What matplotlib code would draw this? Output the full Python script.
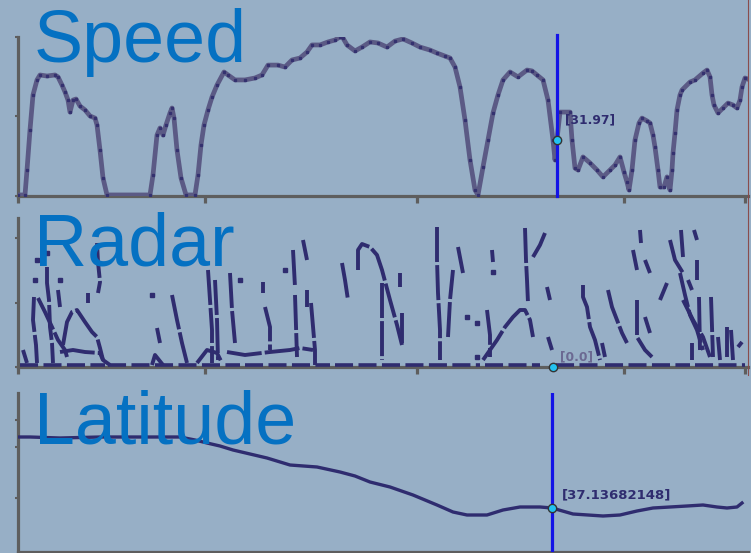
import matplotlib
matplotlib.use("Agg")
import matplotlib.pyplot as plt
from matplotlib.lines import Line2D

# time axis (s) shared by the three panels
time_ticks = [0, 187, 399, 606, 727]

# Speed trace
speed_t = [0, 7, 9, 12, 15, 19, 22, 29, 37, 40, 44, 47, 50, 52, 55, 58, 62, 67, 72, 77,
           79, 82, 85, 89, 132, 135, 139, 142, 145, 148, 152, 154, 156, 159, 163, 168, 177, 180,
           183, 186, 190, 194, 199, 206, 210, 217, 227, 237, 244, 250, 260, 267, 274, 282, 289,
           294, 302, 310, 317, 322, 325, 329, 337, 344, 352, 360, 369, 377, 385, 394, 402, 412,
           419, 427, 432, 437, 442, 447, 452, 457, 460, 465, 470, 475, 480, 485, 492, 500, 509,
           514, 519, 525, 530, 535, 537, 539, 542, 552, 554, 557, 560, 565, 572, 579, 585, 592,
           597, 602, 606, 609, 611, 614, 617, 621, 624, 629, 632, 635, 637, 640, 642, 646, 649,
           652, 654, 655, 657, 659, 662, 664, 672, 677, 685, 689, 692, 694, 696, 700, 705, 710,
           715, 719, 722, 724, 727, 732]
speed_v = [0.6, 0.6, 14.7, 37.4, 57.2, 65.7, 68.5, 67.9, 68.5, 67.4, 62.8, 58.9, 54.3, 47.5,
           54.3, 54.9, 50.9, 48.7, 45.3, 44.1, 40.2, 26.0, 10.2, 0.6, 0.6, 11.9, 34.5, 38.5, 34.5,
           40.2, 47.0, 49.8, 44.1, 26.0, 10.2, 0.6, 0.6, 11.9, 28.9, 40.2, 48.7, 56.0, 62.8, 70.2,
           68.5, 65.7, 65.7, 66.8, 68.5, 74.1, 74.1, 73.0, 77.0, 78.1, 81.5, 85.5, 85.5, 87.2,
           88.3, 90.0, 89.4, 85.5, 82.1, 84.3, 87.2, 86.6, 84.3, 87.7, 88.9, 86.6, 84.3, 82.6,
           80.9, 79.2, 78.1, 73.0, 61.7, 43.0, 20.4, 3.4, 0.6, 16.4, 31.7, 47.0, 57.2, 65.7, 70.2,
           67.4, 71.3, 70.8, 68.5, 65.7, 54.3, 31.7, 20.4, 31.97, 47.5, 47.5, 31.7, 15.8, 14.7,
           22.1, 18.7, 14.7, 10.8, 14.7, 17.5, 22.1, 13.6, 7.9, 3.4, 14.7, 31.7, 41.3, 44.1, 42.5,
           41.3, 34.5, 27.7, 14.7, 5.1, 5.1, 10.8, 3.4, 14.7, 24.3, 35.7, 48.7, 57.2, 60.0, 64.5,
           65.7, 69.6, 71.3, 67.4, 57.2, 51.5, 47.0, 49.8, 52.6, 51.5, 49.8, 54.3, 61.7, 66.8,
           65.7]

# Radar returns: one list of (t, range) points per track
radar_tracks = [
    [(16, 70), (15, 47), (18, 22), (19, 4)],
    [(20, 69), (27, 55), (34, 40), (40, 27), (47, 17), (49, 10)],
    [(42, 15), (55, 17), (67, 15), (82, 14), (85, 7), (92, 2)],
    [(29, 100), (29, 84), (31, 67), (32, 40), (34, 24), (35, 4)],
    [(40, 77), (42, 60)],
    [(45, 22), (49, 45), (54, 55), (59, 57), (67, 45), (74, 35), (79, 30), (82, 19), (85, 7)],
    [(79, 124), (80, 105), (82, 85), (80, 74)],
    [(70, 74), (70, 64)],
    [(5, 17), (9, 4)],
    [(139, 39), (142, 24)],
    [(154, 72), (157, 57), (159, 47), (164, 24), (169, 4)],
    [(134, 2), (137, 12), (145, 2)],
    [(179, 4), (189, 17), (199, 14), (204, 4)],
    [(190, 97), (192, 67), (194, 37), (194, 4)],
    [(197, 87), (199, 47), (200, 7)],
    [(212, 94), (214, 57), (217, 24)],
    [(209, 15), (227, 12), (252, 15), (272, 17), (282, 19), (295, 17)],
    [(245, 85), (245, 74)],
    [(247, 60), (252, 40), (252, 17)],
    [(275, 117), (277, 80)],
    [(277, 72), (279, 10)],
    [(285, 127), (289, 107)],
    [(289, 77), (289, 60)],
    [(293, 64), (297, 17), (297, 2)],
    [(324, 104), (327, 87), (330, 67)],
    [(340, 97), (340, 117), (344, 123), (352, 120), (359, 112), (364, 97), (372, 67),
     (379, 42), (384, 22)],
    [(364, 84), (364, 47), (364, 7)],
    [(382, 94), (382, 80)],
    [(384, 54), (384, 24)],
    [(419, 140), (419, 107), (420, 74), (422, 37), (422, 7)],
    [(430, 30), (432, 67), (435, 97)],
    [(440, 120), (445, 94)],
    [(474, 117), (475, 105)],
    [(469, 57), (472, 32), (472, 10)],
    [(465, 7), (472, 17), (479, 27), (487, 40), (495, 50), (502, 57), (507, 57), (512, 47),
     (515, 30)],
    [(507, 139), (508, 107), (509, 87), (510, 64)],
    [(527, 134), (522, 122), (515, 110)],
    [(529, 80), (532, 67)],
    [(530, 30), (534, 17)],
    [(565, 82), (565, 70), (569, 60), (572, 40), (577, 27), (582, 7)],
    [(584, 24), (587, 10)],
    [(590, 77), (594, 60), (599, 47), (604, 34), (609, 24)],
    [(619, 67), (619, 30), (627, 17), (634, 10)],
    [(627, 50), (632, 34)],
    [(615, 117), (619, 97)],
    [(622, 137), (623, 124)],
    [(627, 107), (632, 94)],
    [(649, 84), (642, 67)],
    [(652, 127), (657, 107), (665, 94)],
    [(663, 137), (665, 110)],
    [(676, 137), (679, 127)],
    [(662, 94), (667, 72), (672, 52), (679, 37), (685, 17)],
    [(670, 87), (674, 77)],
    [(679, 107), (679, 87)],
    [(665, 67), (675, 47), (685, 30), (692, 10)],
    [(681, 70), (682, 17)],
    [(693, 70), (695, 10)],
    [(674, 24), (674, 7)],
    [(700, 30), (702, 7)],
    [(709, 40), (709, 10)],
    [(713, 37), (715, 7)],
    [(720, 20), (724, 25)],
]
radar_dots_t = [17, 19, 42, 134, 222, 267, 449, 459, 475, 29, 459]
radar_dots_r = [87, 107, 87, 72, 87, 97, 50, 44, 95, 114, 10]
# near-zero returns along the baseline (start, end)
radar_base = [(2, 87), (90, 132), (137, 222), (227, 312), (317, 462), (467, 522),
              (538, 582), (587, 672), (677, 727)]

# Latitude trace
lat_t = [0, 12, 42, 82, 132, 162, 177, 189, 202, 215, 232, 249, 272, 299, 322, 337, 352,
         372, 395, 419, 435, 449, 469, 485, 502, 522, 534, 555, 585, 602, 619, 635, 669, 685,
         699, 709, 719, 724]
lat_v = [37.14392, 37.14392, 37.14382, 37.14392, 37.14392, 37.14392, 37.14362, 37.14332,
         37.14302, 37.14262, 37.14222, 37.14182, 37.14112, 37.14092, 37.14042, 37.14002,
         37.13942, 37.13892, 37.13812, 37.13712, 37.13642, 37.13612, 37.13612, 37.13662,
         37.13692, 37.13692, 37.13682148, 37.13622, 37.13602, 37.13612, 37.13652, 37.13682,
         37.13702, 37.13712, 37.13692, 37.13682, 37.13692, 37.13732]

# cursor position in each panel and the value shown there
cursor_t = [539, 535, 534]
cursor_v = [31.97, 0.0, 37.13682148]
cursor_txt = ["[31.97]", "[0.0]", "[37.13682148]"]

bg = "#97afc6"
navy = "#2f2c6f"
axis_grey = "#5e5e5e"
title_blue = "#0571c2"

fig = plt.figure(figsize=(7.51, 5.53), dpi=100, facecolor=bg)
W, H = 751, 553


def make_ax(top, bottom):
    ax = fig.add_axes([18 / W, 1 - bottom / H, 730 / W, (bottom - top) / H])
    ax.set_facecolor(bg)
    for s in ["top", "right"]:
        ax.spines[s].set_visible(False)
    for s in ["left", "bottom"]:
        ax.spines[s].set_color(axis_grey)
        ax.spines[s].set_linewidth(2.3)
    ax.set_xlim(0, 730)
    ax.set_xticks(time_ticks)
    ax.tick_params(axis="x", length=5, width=2.3, color=axis_grey, labelbottom=False)
    ax.tick_params(axis="y", length=2.5, width=1.5, color=axis_grey, labelleft=False)
    return ax


# Speed
ax1 = make_ax(37, 196)
ax1.set_ylim(0, 90)
ax1.set_yticks([0, 45, 90])
ax1.plot(speed_t, speed_v, color="#5b5a85", lw=3.4, solid_capstyle="butt", zorder=3)
ax1.plot(speed_t, speed_v, "s", color="#34316f", ms=1.4, zorder=4)
ax1.axvline(cursor_t[0], ymin=0, ymax=1.01, color="#1414e6", lw=2.3, zorder=5, clip_on=False)
ax1.plot(cursor_t[0], cursor_v[0], "o", color="#22c2f0", mec="#333333", mew=1, ms=6, zorder=6)
ax1.text(cursor_t[0] + 8, cursor_v[0] + 11, cursor_txt[0], color=navy, fontsize=8.8,
         fontweight="bold", va="center", ha="left", zorder=6)

# Radar
ax2 = make_ax(218, 367)
ax2.set_ylim(0, 149)
ax2.set_yticks([0, 64, 129])
for track in radar_tracks:
    ax2.plot([p[0] for p in track], [p[1] for p in track], color=navy, lw=2.8,
             ls=(0, (9, 0.8)), dash_capstyle="butt", zorder=3)
ax2.plot(radar_dots_t, radar_dots_r, "s", color=navy, ms=3, zorder=3)
for a, b in radar_base:
    ax2.plot([a, b], [2, 2], color=navy, lw=2.6, ls=(0, (5, 1.5)), zorder=3)
ax2.plot(cursor_t[1], cursor_v[1], "o", color="#22c2f0", mec="#333333", mew=1, ms=6,
         zorder=6, clip_on=False)
ax2.text(cursor_t[1] + 7, cursor_v[1] + 10, cursor_txt[1], color="#6b6992", fontsize=8.8,
         fontweight="bold", va="center", ha="left", zorder=6)

# Latitude
ax3 = make_ax(393, 552)
ax3.set_ylim(37.13242, 37.14832)
ax3.set_yticks([37.14562, 37.14292, 37.13782])
ax3.plot(lat_t, lat_v, color=navy, lw=2.4, zorder=3)
ax3.axvline(cursor_t[2], color="#1414e6", lw=2.3, zorder=5)
ax3.plot(cursor_t[2], cursor_v[2], "o", color="#22c2f0", mec="#333333", mew=1, ms=6, zorder=6)
ax3.text(cursor_t[2] + 10, cursor_v[2] + 0.0013, cursor_txt[2], color=navy, fontsize=9.5,
         fontweight="bold", va="center", ha="left", zorder=6)

# frame edge on the right
fig.add_artist(Line2D([748 / W, 748 / W], [1 - 375 / H, 1], color="#8a4c4c", lw=0.8))

# panel titles
for name, base in [("Speed", 62), ("Radar", 266), ("Latitude", 443)]:
    fig.text(34 / W, 1 - base / H, name, color=title_blue, fontsize=53,
             family=["Liberation Sans", "DejaVu Sans"], ha="left", va="baseline", zorder=10)

fig.savefig("out.png", dpi=100, facecolor=bg)
